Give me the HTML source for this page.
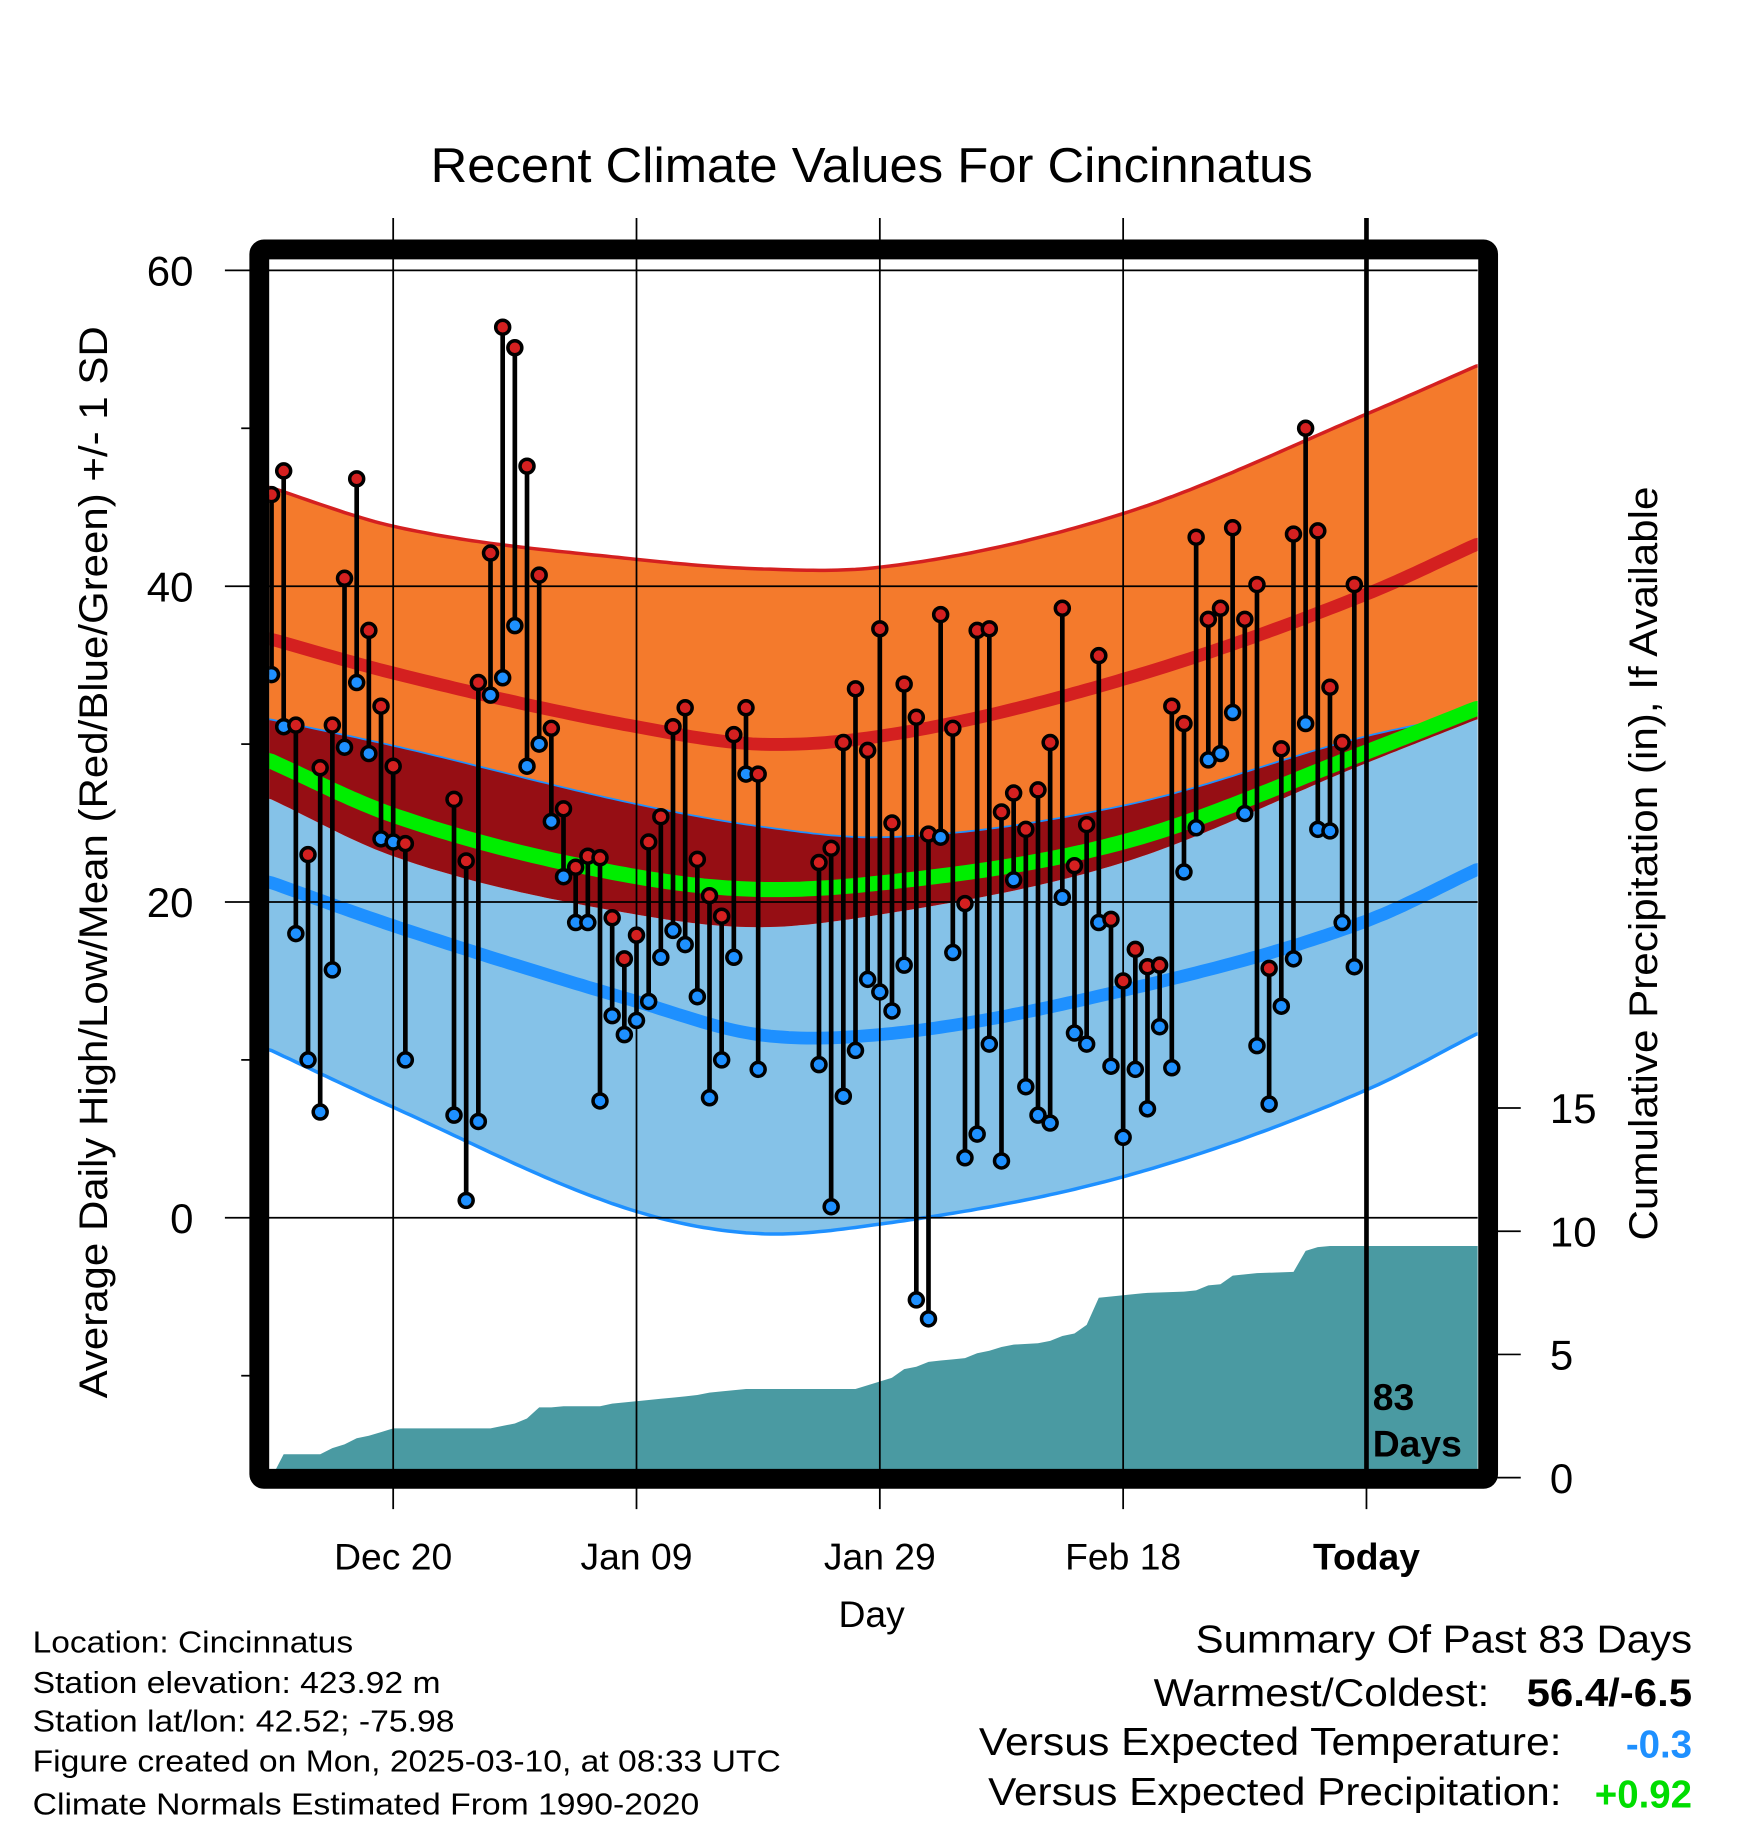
<!DOCTYPE html>
<html><head><meta charset="utf-8"><style>
html,body{margin:0;padding:0;background:#fff;}
svg{display:block;font-family:"Liberation Sans",sans-serif;}
</style></head><body>
<svg id="chart" width="1748" height="1828" viewBox="0 0 1500 1568.6" xmlns="http://www.w3.org/2000/svg">
<defs><clipPath id="plotclip"><rect x="231" y="222" width="1037" height="1039"/></clipPath></defs>
<rect width="1500" height="1568.6" fill="#fff"/>
<g id="bands" clip-path="url(#plotclip)"></g>
<g id="grid"></g>
<g id="marks" clip-path="url(#plotclip)"></g>
<rect x="222.5" y="214" width="1054.5" height="1055" rx="4" fill="none" stroke="#000" stroke-width="17"/>
<g id="axes"></g>
<text x="748" y="156" font-size="42" text-anchor="middle" textLength="757" lengthAdjust="spacingAndGlyphs">Recent Climate Values For Cincinnatus</text>
<text transform="translate(92,740) rotate(-90)" font-size="34" text-anchor="middle" textLength="920" lengthAdjust="spacingAndGlyphs">Average Daily High/Low/Mean (Red/Blue/Green) +/- 1 SD</text>
<text transform="translate(1422,741) rotate(-90)" font-size="34" text-anchor="middle" textLength="647" lengthAdjust="spacingAndGlyphs">Cumulative Precipitation (in), If Available</text>
<text x="748" y="1396" font-size="32" text-anchor="middle">Day</text>
<text x="1178" y="1210" font-size="32" font-weight="bold">83</text>
<text x="1178" y="1250" font-size="32" font-weight="bold">Days</text>
<g font-size="26">
<text x="28" y="1418" textLength="275" lengthAdjust="spacingAndGlyphs">Location: Cincinnatus</text>
<text x="28" y="1453" textLength="350" lengthAdjust="spacingAndGlyphs">Station elevation: 423.92 m</text>
<text x="28" y="1486" textLength="362" lengthAdjust="spacingAndGlyphs">Station lat/lon: 42.52; -75.98</text>
<text x="28" y="1520" textLength="642" lengthAdjust="spacingAndGlyphs">Figure created on Mon, 2025-03-10, at 08:33 UTC</text>
<text x="28" y="1557" textLength="572" lengthAdjust="spacingAndGlyphs">Climate Normals Estimated From 1990-2020</text>
</g>
<g font-size="33">
<text x="1452" y="1418" text-anchor="end" textLength="426" lengthAdjust="spacingAndGlyphs">Summary Of Past 83 Days</text>
<text x="1278" y="1464" text-anchor="end" textLength="288" lengthAdjust="spacingAndGlyphs">Warmest/Coldest:</text>
<text x="1452" y="1464" text-anchor="end" font-weight="bold" textLength="142" lengthAdjust="spacingAndGlyphs">56.4/-6.5</text>
<text x="1340" y="1506" text-anchor="end" textLength="500" lengthAdjust="spacingAndGlyphs">Versus Expected Temperature:</text>
<text x="1452" y="1508" text-anchor="end" font-weight="bold" fill="#1e90ff">-0.3</text>
<text x="1340" y="1549" text-anchor="end" textLength="492" lengthAdjust="spacingAndGlyphs">Versus Expected Precipitation:</text>
<text x="1452" y="1551" text-anchor="end" font-weight="bold" fill="#00dd00">+0.92</text>
</g>
</svg>
<script>
const normDays=[-0.3,10,30,40,50,70,90,99.2];
const highUp=[46.3,43.8,41.7,41.1,41.2,44.6,50.9,54.0];
const highN=[36.7,34.5,31.1,30.0,30.5,34.1,39.5,42.7];
const highDn=[31.6,29.9,26.2,24.8,24.1,26.1,30.5,32.0];
const meanN=[29.0,25.5,21.6,20.8,21.2,23.8,29.5,32.3];
const lowUp=[26.6,22.9,19.2,18.4,19.2,22.5,28.8,31.6];
const lowN=[21.3,18.5,13.7,11.6,11.6,14.4,18.8,22.1];
const lowDn=[10.7,7.0,0.4,-1.0,-0.4,2.6,8.1,11.7];
const obsDays=[0,1,2,3,4,5,6,7,8,9,10,11,15,16,17,18,19,20,21,22,23,24,25,26,27,28,29,30,31,32,33,34,35,36,37,38,39,40,45,46,47,48,49,50,51,52,53,54,55,56,57,58,59,60,61,62,63,64,65,66,67,68,69,70,71,72,73,74,75,76,77,78,79,80,81,82,83,84,85,86,87,88,89];
const highs=[45.8,47.3,31.2,23.0,28.5,31.2,40.5,46.8,37.2,32.4,28.6,23.7,26.5,22.6,33.9,42.1,56.4,55.1,47.6,40.7,31.0,25.9,22.2,22.9,22.8,19.0,16.4,17.9,23.8,25.4,31.1,32.3,22.7,20.4,19.1,30.6,32.3,28.1,22.5,23.4,30.1,33.5,29.6,37.3,25.0,33.8,31.7,24.3,38.2,31.0,19.9,37.2,37.3,25.7,26.9,24.6,27.1,30.1,38.6,22.3,24.9,35.6,18.9,15.0,17.0,15.9,16.0,32.4,31.3,43.1,37.9,38.6,43.7,37.9,40.1,15.8,29.7,43.3,50.0,43.5,33.6,30.1,40.1];
const lows=[34.4,31.1,18.0,10.0,6.7,15.7,29.8,33.9,29.4,24.0,23.8,10.0,6.5,1.1,6.1,33.1,34.2,37.5,28.6,30.0,25.1,21.6,18.7,18.7,7.4,12.8,11.6,12.5,13.7,16.5,18.2,17.3,14.0,7.6,10.0,16.5,28.1,9.4,9.7,0.7,7.7,10.6,15.1,14.3,13.1,16.0,-5.2,-6.4,24.1,16.8,3.8,5.3,11.0,3.6,21.4,8.3,6.5,6.0,20.3,11.7,11.0,18.7,9.6,5.1,9.4,6.9,12.1,9.5,21.9,24.7,29.0,29.4,32.0,25.6,10.9,7.2,13.4,16.4,31.3,24.6,24.5,18.7,15.9];
const precipDays=[0,1,2,3,4,5,6,7,8,9,10,18,19,20,21,22,23,24,27,28,30,31,32,33,34,35,36,37,39,48,49,50,51,52,53,54,55,56,57,58,59,60,61,63,64,65,66,67,68,69,70,71,72,75,76,77,78,79,80,81,84,85,86,87,99.2];
const precipCum=[0,0.95,0.95,0.95,0.95,1.2,1.35,1.6,1.7,1.85,2.0,2.0,2.1,2.2,2.4,2.85,2.85,2.9,2.9,3.0,3.1,3.15,3.2,3.25,3.3,3.35,3.45,3.5,3.6,3.6,3.75,3.9,4.05,4.4,4.5,4.7,4.75,4.8,4.85,5.05,5.15,5.3,5.4,5.45,5.55,5.75,5.85,6.2,7.3,7.35,7.4,7.45,7.5,7.55,7.6,7.8,7.85,8.2,8.25,8.3,8.35,9.2,9.35,9.4,9.4];
const xTickDays=[10,30,50,70,90];
const xTickLabels=["Dec 20","Jan 09","Jan 29","Feb 18","Today"];
const yTicks=[60,40,20,0];
const yMinor=[50,30,10,-10];
const pTicks=[0,5,10,15];

const NS="http://www.w3.org/2000/svg";
const xS=d=>233+d*10.44;
const yS=t=>1045-t*13.55;
const pS=p=>1268-p*21.15;
function mk(tag,attrs,parent){const e=document.createElementNS(NS,tag);for(const k in attrs)e.setAttribute(k,attrs[k]);parent.appendChild(e);return e;}
function interp(arr,d){
  const n=normDays.length;
  let i=0;while(i<n-2&&d>normDays[i+1])i++;
  const slope=k=>(arr[k+1]-arr[k])/(normDays[k+1]-normDays[k]);
  const tan=k=>k===0?slope(0):(k===n-1?slope(n-2):(slope(k-1)+slope(k))/2);
  const h=normDays[i+1]-normDays[i];
  const t=(d-normDays[i])/h,t2=t*t,t3=t2*t;
  return (2*t3-3*t2+1)*arr[i]+(t3-2*t2+t)*h*tan(i)+(-2*t3+3*t2)*arr[i+1]+(t3-t2)*h*tan(i+1);
}
function curve(arr){const pts=[];for(let d=-0.5;d<=99.5;d+=0.5){pts.push([xS(d),yS(interp(arr,Math.max(-0.3,Math.min(99.2,d))))]);}return pts;}
function bandPath(a,b){const A=curve(a),B=curve(b).reverse();return "M"+A.concat(B).map(p=>p[0].toFixed(1)+","+p[1].toFixed(1)).join("L")+"Z";}
function linePath(a){return "M"+curve(a).map(p=>p[0].toFixed(1)+","+p[1].toFixed(1)).join("L");}

const bands=document.getElementById('bands');
let e;
e=mk('path',{d:bandPath(highUp,highDn),fill:'#f47a2c'},bands);

e=mk('path',{d:bandPath(lowUp,lowDn),fill:'#85c2e8'},bands);

e=mk('path',{d:bandPath(highDn,lowUp),fill:'#960e14'},bands);

e=mk('path',{d:linePath(highUp),fill:'none',stroke:'#d42020','stroke-width':3},bands);

e=mk('path',{d:linePath(highDn),fill:'none',stroke:'#1e90ff','stroke-width':1.5},bands);

e=mk('path',{d:linePath(lowDn),fill:'none',stroke:'#1e90ff','stroke-width':3},bands);

e=mk('path',{d:linePath(highN),fill:'none',stroke:'#d42020','stroke-width':11},bands);

e=mk('path',{d:linePath(meanN),fill:'none',stroke:'#00ee00','stroke-width':13},bands);

e=mk('path',{d:linePath(lowN),fill:'none',stroke:'#1e90ff','stroke-width':11},bands);

let pd="M"+xS(precipDays[0])+","+pS(0);
precipDays.forEach((d,i)=>{pd+="L"+xS(d).toFixed(1)+","+pS(precipCum[i]).toFixed(1);});
pd+="L"+xS(99.5)+","+pS(precipCum[precipCum.length-1]).toFixed(1)+"L"+xS(99.5)+","+pS(0)+"Z";
e=mk('path',{d:pd,fill:'#4a9aa2'},bands);


const grid=document.getElementById('grid');
yTicks.forEach(t=>{
  const l=mk('line',{x1:193,x2:1268,y1:yS(t),y2:yS(t),stroke:'#000','stroke-width':1.5},grid);
  
});
xTickDays.forEach(d=>{
  const l=mk('line',{x1:xS(d),x2:xS(d),y1:187,y2:1295,stroke:'#000','stroke-width':1.5},grid);
  
});

const marks=document.getElementById('marks');
obsDays.forEach((d,i)=>{
  const x=xS(d);
  const s=mk('line',{x1:x,x2:x,y1:yS(highs[i]),y2:yS(lows[i]),stroke:'#000','stroke-width':4},marks);
  
});
obsDays.forEach((d,i)=>{
  const x=xS(d);
  const h=mk('circle',{cx:x,cy:yS(highs[i]),r:6,fill:'#d42020',stroke:'#000','stroke-width':3},marks);
  
  const lo=mk('circle',{cx:x,cy:yS(lows[i]),r:6,fill:'#1e90ff',stroke:'#000','stroke-width':3},marks);
  
});
e=mk('line',{x1:xS(90),x2:xS(90),y1:187,y2:1262,stroke:'#000','stroke-width':4},document.getElementById('chart'));


const axes=document.getElementById('axes');
yTicks.forEach(t=>{
  const tx=mk('text',{x:166,y:yS(t)+13,'font-size':36,'text-anchor':'end'},axes);
  tx.textContent=t;
  
});
yMinor.forEach(t=>{
  const l=mk('line',{x1:207,x2:220,y1:yS(t),y2:yS(t),stroke:'#000','stroke-width':1.5},axes);
  
});
pTicks.forEach(p=>{
  const l=mk('line',{x1:1285,x2:1305,y1:pS(p),y2:pS(p),stroke:'#000','stroke-width':1.5},axes);
  
  const tx=mk('text',{x:1330,y:pS(p)+13,'font-size':36},axes);
  tx.textContent=p;
  
});
xTickDays.forEach((d,i)=>{
  const tx=mk('text',{x:xS(d),y:1347,'font-size':32,'text-anchor':'middle'},axes);
  if(xTickLabels[i]==='Today')tx.setAttribute('font-weight','bold');
  tx.textContent=xTickLabels[i];
  
});
</script>
</body></html>
